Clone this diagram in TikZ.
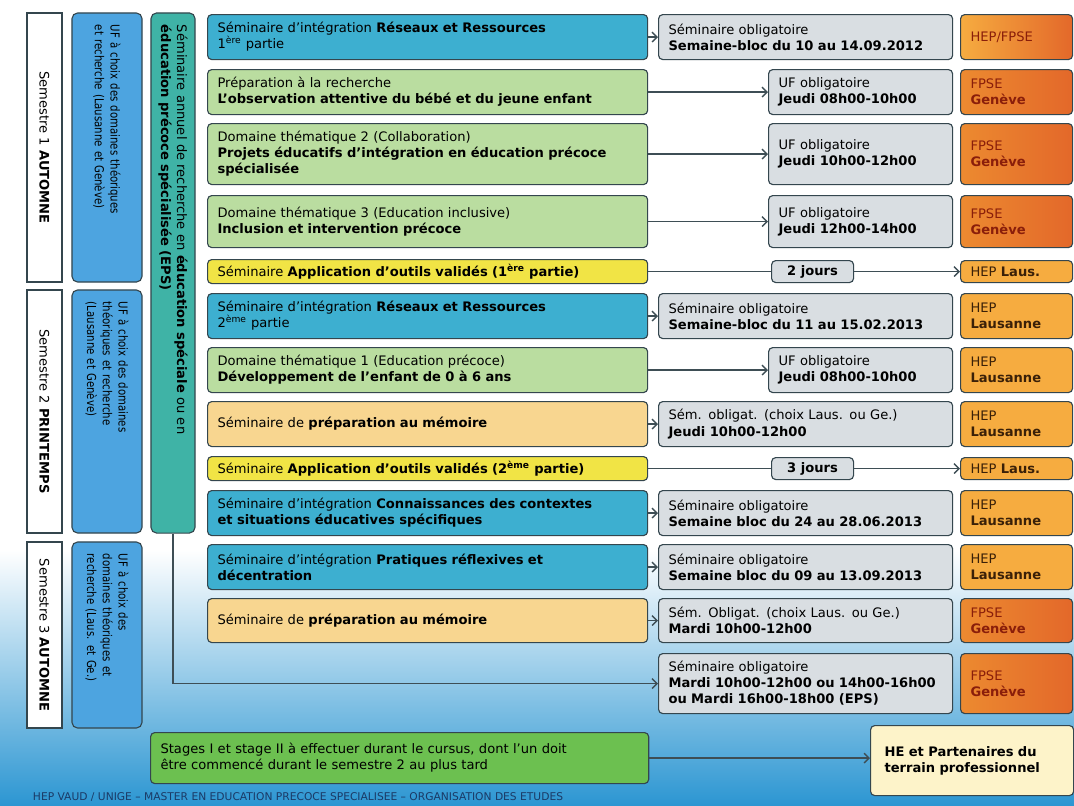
\documentclass[tikz,border=0pt]{standalone}
\usepackage{fontspec}
\setmainfont{DejaVu Sans}
\newfontfamily\narrowfont{DejaVu Sans}[FakeStretch=0.82]
\usepackage{tikz}
\usetikzlibrary{arrows.meta}

\definecolor{edge}{HTML}{34464E}
\definecolor{arrowgray}{HTML}{3E4E55}
\definecolor{integ}{HTML}{3DAFD0}
\definecolor{prep}{HTML}{BADDA0}
\definecolor{outil}{HTML}{F1E445}
\definecolor{memo}{HTML}{F8D690}
\definecolor{oblig}{HTML}{D9DEE2}
\definecolor{hepor}{HTML}{F6AC40}
\definecolor{fpseA}{HTML}{EC8A30}
\definecolor{fpseB}{HTML}{E3682A}
\definecolor{stagegr}{HTML}{6CC050}
\definecolor{cream}{HTML}{FDF3C9}
\definecolor{ufblue}{HTML}{4DA4E0}
\definecolor{epsteal}{HTML}{3FB3A6}
\definecolor{bgmid}{HTML}{A6DCEC}
\definecolor{bgblue}{HTML}{2C96D2}
\definecolor{navy}{HTML}{1B3A66}
\definecolor{hepink}{HTML}{3A2008}
\definecolor{fpseink}{HTML}{8A1E0A}

\newcommand{\boxfont}{\fontsize{9.3}{11.4}\selectfont}

\tikzset{
  box/.style={draw=edge, line width=0.8pt, rounded corners=3pt, anchor=north west,
    inner xsep=0.25cm, inner ysep=0pt, align=left, font=\boxfont},
  mid/.style={box, text width=10.5cm},
  wide/.style={box, fill=oblig, text width=6.85cm},
  narrow/.style={box, fill=oblig, text width=4.1cm},
  jours/.style={box, fill=oblig, minimum width=2.05cm, align=center},
  hep/.style={box, fill=hepor, text=hepink, text width=2.3cm},
  fpse/.style={box, left color=fpseA, right color=fpseB, text=fpseink, text width=2.3cm},
  semest/.style={draw=edge, line width=0.8pt, fill=white, rotate=-90, font=\boxfont,
    minimum height=0.875cm},
  ufbox/.style={draw=edge, line width=0.8pt, rounded corners=4pt, fill=ufblue, rotate=-90,
    font=\narrowfont\fontsize{8.8}{11.2}\selectfont, align=left, inner xsep=0.3cm,
    minimum height=1.75cm},
  conn/.style={draw=arrowgray, line width=1pt, -{Straight Barb[length=3.5pt,width=7pt]}}
}

\begin{document}
\begin{tikzpicture}[x=0.025cm, y=-0.025cm]
  \useasboundingbox (0,0) rectangle (1074,805);
  % fond
  \fill[white] (0,0) rectangle (1074,550);
  \shade[top color=white, middle color=bgmid, bottom color=bgblue] (0,550) rectangle (1074,805);

  % semestres
  \node[semest, minimum width=6.725cm] (sem1) at (44.5,147.5) {Semestre 1 \textbf{AUTOMNE}};
  \node[semest, minimum width=6.075cm] (sem2) at (44.5,411.5) {Semestre 2 \textbf{PRINTEMPS}};
  \node[semest, minimum width=4.65cm] (sem3) at (44.5,635) {Semestre 3 \textbf{AUTOMNE}};

  % UF a choix
  \node[ufbox, text width=6.125cm] (uf1) at (107,147.5)
    {UF à choix des domaines théoriques\\et recherche (Lausanne et Genève)};
  \node[ufbox, text width=5.475cm] (uf2) at (107,411.5)
    {UF à choix des domaines\\théoriques et recherche\\(Lausanne et Genève)};
  \node[ufbox, text width=4.05cm] (uf3) at (107,635)
    {UF à choix des\\domaines théoriques et\\recherche (Laus. et Ge.)};

  % seminaire annuel EPS
  \node[ufbox, fill=epsteal, font=\boxfont, minimum height=1.1cm, text width=12.4cm] (eps) at (173,273)
    {Séminaire annuel de recherche en \textbf{éducation spéciale} ou en\\\textbf{éducation précoce spécialisée (EPS)}};

  % colonne du milieu
  \node[mid, fill=integ, minimum height=1.125cm] (r1) at (207,14)
    {Séminaire d'intégration \textbf{Réseaux et Ressources}\\1\textsuperscript{ère} partie};
  \node[mid, fill=prep, minimum height=1.125cm] (r2) at (207,69)
    {Préparation à la recherche\\\textbf{L'observation attentive du bébé et du jeune enfant}};
  \node[mid, fill=prep, minimum height=1.525cm] (r3) at (207,123)
    {Domaine thématique 2 (Collaboration)\\\textbf{Projets éducatifs d'intégration en éducation précoce}\\\textbf{spécialisée}};
  \node[mid, fill=prep, minimum height=1.3cm] (r4) at (207,195)
    {Domaine thématique 3 (Education inclusive)\\\textbf{Inclusion et intervention précoce}};
  \node[mid, fill=outil, minimum height=0.6cm] (r5) at (207,259)
    {Séminaire \textbf{Application d'outils validés (1\textsuperscript{ère} partie)}};
  \node[mid, fill=integ, minimum height=1.125cm] (r6) at (207,293)
    {Séminaire d'intégration \textbf{Réseaux et Ressources}\\2\textsuperscript{ème} partie};
  \node[mid, fill=prep, minimum height=1.125cm] (r7) at (207,347)
    {Domaine thématique 1 (Education précoce)\\\textbf{Développement de l'enfant de 0 à 6 ans}};
  \node[mid, fill=memo, minimum height=1.125cm] (r8) at (207,401)
    {Séminaire de \textbf{préparation au mémoire}};
  \node[mid, fill=outil, minimum height=0.6cm] (r9) at (207,456)
    {Séminaire \textbf{Application d'outils validés (2\textsuperscript{ème} partie)}};
  \node[mid, fill=integ, minimum height=1.125cm] (r10) at (207,490)
    {Séminaire d'intégration \textbf{Connaissances des contextes}\\\textbf{et situations éducatives spécifiques}};
  \node[mid, fill=integ, minimum height=1.125cm] (r11) at (207,544)
    {Séminaire d'intégration \textbf{Pratiques réflexives et}\\\textbf{décentration}};
  \node[mid, fill=memo, minimum height=1.1cm] (r12) at (207,598)
    {Séminaire de \textbf{préparation au mémoire}};
  \node[box, fill=stagegr, text width=11.95cm, minimum height=1.275cm] (stage) at (150,732)
    {Stages I et stage II à effectuer durant le cursus, dont l'un doit\\être commencé durant le semestre 2 au plus tard};

  % modalites
  \node[wide, minimum height=1.125cm] (g1) at (658,14)
    {Séminaire obligatoire\\\textbf{Semaine-bloc du 10 au 14.09.2012}};
  \node[narrow, minimum height=1.125cm] (g2) at (768,69) {UF obligatoire\\\textbf{Jeudi 08h00-10h00}};
  \node[narrow, minimum height=1.525cm] (g3) at (768,123) {UF obligatoire\\\textbf{Jeudi 10h00-12h00}};
  \node[narrow, minimum height=1.3cm] (g4) at (768,195) {UF obligatoire\\\textbf{Jeudi 12h00-14h00}};
  \node[jours, minimum height=0.55cm] (j5) at (771,260) {\textbf{2 jours}};
  \node[wide, minimum height=1.125cm] (g6) at (658,293)
    {Séminaire obligatoire\\\textbf{Semaine-bloc du 11 au 15.02.2013}};
  \node[narrow, minimum height=1.125cm] (g7) at (768,347) {UF obligatoire\\\textbf{Jeudi 08h00-10h00}};
  \node[wide, minimum height=1.125cm] (g8) at (658,401)
    {Sém. obligat. (choix Laus. ou Ge.)\\\textbf{Jeudi 10h00-12h00}};
  \node[jours, minimum height=0.55cm] (j9) at (771,457) {\textbf{3 jours}};
  \node[wide, minimum height=1.125cm] (g10) at (658,490)
    {Séminaire obligatoire\\\textbf{Semaine bloc du 24 au 28.06.2013}};
  \node[wide, minimum height=1.125cm] (g11) at (658,544)
    {Séminaire obligatoire\\\textbf{Semaine bloc du 09 au 13.09.2013}};
  \node[wide, minimum height=1.1cm] (g12) at (658,598)
    {Sém. Obligat. (choix Laus. ou Ge.)\\\textbf{Mardi 10h00-12h00}};
  \node[wide, minimum height=1.5cm] (g13) at (658,653)
    {Séminaire obligatoire\\\textbf{Mardi 10h00-12h00 ou 14h00-16h00}\\\textbf{ou Mardi 16h00-18h00 (EPS)}};
  \node[box, fill=cream, inner xsep=0.35cm, text width=4.375cm, minimum height=1.75cm] (he) at (870,725)
    {\textbf{HE et Partenaires du}\\\textbf{terrain professionnel}};

  % lieux
  \node[box, left color=hepor, right color=fpseB, text=fpseink, text width=2.3cm, minimum height=1.125cm] (o1) at (960,14) {HEP/FPSE};
  \node[fpse, minimum height=1.125cm] (o2) at (960,69) {FPSE\\\textbf{Genève}};
  \node[fpse, minimum height=1.525cm] (o3) at (960,123) {FPSE\\\textbf{Genève}};
  \node[fpse, minimum height=1.3cm] (o4) at (960,195) {FPSE\\\textbf{Genève}};
  \node[hep, minimum height=0.55cm] (o5) at (960,260) {HEP \textbf{Laus.}};
  \node[hep, minimum height=1.125cm] (o6) at (960,293) {HEP\\\textbf{Lausanne}};
  \node[hep, minimum height=1.125cm] (o7) at (960,347) {HEP\\\textbf{Lausanne}};
  \node[hep, minimum height=1.125cm] (o8) at (960,401) {HEP\\\textbf{Lausanne}};
  \node[hep, minimum height=0.55cm] (o9) at (960,457) {HEP \textbf{Laus.}};
  \node[hep, minimum height=1.125cm] (o10) at (960,490) {HEP\\\textbf{Lausanne}};
  \node[hep, minimum height=1.125cm] (o11) at (960,544) {HEP\\\textbf{Lausanne}};
  \node[fpse, minimum height=1.1cm] (o12) at (960,598) {FPSE\\\textbf{Genève}};
  \node[fpse, minimum height=1.5cm] (o13) at (960,653) {FPSE\\\textbf{Genève}};

  % fleches
  \foreach \i in {1,2,3,4,6,7,8,10,11,12}
    \draw[conn] (r\i.east) -- (g\i.west);
  \draw[conn, -] (r5.east) -- (r5.east -| j5.west);
  \draw[conn] (j5.east) -- (j5.east -| o5.west);
  \draw[conn, -] (r9.east) -- (r9.east -| j9.west);
  \draw[conn] (j9.east) -- (j9.east -| o9.west);
  \draw[conn] (eps.east) |- (g13.west);
  \draw[conn] (stage.east) -- (stage.east -| he.west);

  \node[anchor=west, font=\fontsize{7.6}{8}\selectfont, text=navy] (foot) at (28,797)
    {HEP VAUD / UNIGE – MASTER EN EDUCATION PRECOCE SPECIALISEE – ORGANISATION DES ETUDES};
\end{tikzpicture}
\end{document}
